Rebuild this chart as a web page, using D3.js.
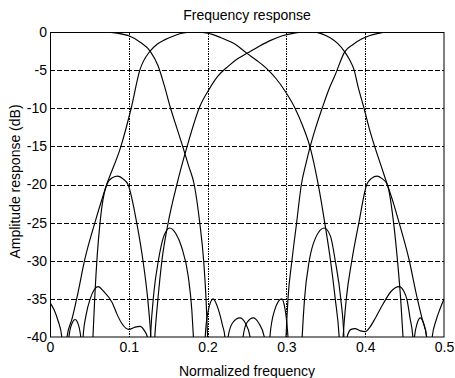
<!DOCTYPE html>
<html>
<head>
<meta charset="utf-8">
<script src="https://cdn.jsdelivr.net/npm/d3@7"></script>
<style>
  body { margin: 0; background: #fff; }
  text { font-family: "Liberation Sans", Arial, Helvetica, sans-serif; fill: #000; }
</style>
</head>
<body>
<div id="chart"></div>
<script>
const width = 455,
    height = 378,
    margin = {top: 32, right: 11, bottom: 41, left: 50}

const innerW = width - margin.left - margin.right
const innerH = height - margin.top - margin.bottom

// tick values and their printed labels
const freqTicks = [0, 0.1, 0.2, 0.3, 0.4, 0.5]
const freqLabels = ['0', '0.1', '0.2', '0.3', '0.4', '0.5']
const dbTicks = [0, -5, -10, -15, -20, -25, -30, -35, -40]
const dbLabels = ['0', '-5', '-10', '-15', '-20', '-25', '-30', '-35', '-40']

// amplitude responses [normalized frequency, dB]
// (points below -40 dB only shape the nulls, they are clipped)
const lowpass = [
  [0, 0], [0.04, 0], [0.07, -0.02], [0.085, -0.15], [0.1, -0.5], [0.114, -1.3],
  [0.127, -2.5], [0.137, -4.4], [0.145, -7], [0.153, -10], [0.161, -12.6],
  [0.169, -15.2], [0.176, -17.6], [0.183, -20], [0.19, -25], [0.195, -30],
  [0.198, -35], [0.2, -40], [0.203, -48], [0.214, -52], [0.224, -46],
  [0.226, -40], [0.232, -38.1], [0.241, -37.5], [0.248, -38.2], [0.254, -40],
  [0.257, -47], [0.267, -52], [0.277, -47], [0.279, -40], [0.285, -36.5],
  [0.294, -35], [0.298, -36.2], [0.302, -40], [0.305, -47], [0.312, -52],
  [0.317, -47], [0.32, -40], [0.323, -35], [0.329, -30], [0.337, -27],
  [0.348, -25.7], [0.356, -26.8], [0.362, -30], [0.369, -35], [0.373, -40],
  [0.375, -46], [0.377, -40], [0.382, -39], [0.387, -38.9], [0.394, -39.2],
  [0.4, -39.3], [0.406, -38.7], [0.413, -37.5], [0.423, -35.6], [0.433, -34],
  [0.443, -33.4], [0.449, -34], [0.453, -35.1], [0.457, -37.6], [0.4605, -40],
  [0.4615, -45], [0.4625, -40], [0.466, -38.2], [0.47, -37.5], [0.474, -38.2],
  [0.478, -40], [0.4815, -47], [0.485, -40], [0.49, -37.8], [0.495, -36.3],
  [0.5, -35]
]

const band2 = [
  [0, -56], [0.012, -50], [0.0195, -44], [0.0216, -40], [0.028, -37.6],
  [0.0355, -34.2], [0.044, -29.9], [0.057, -25], [0.072, -20], [0.09, -15],
  [0.103, -10], [0.114, -5], [0.127, -2.5], [0.136, -1.6], [0.146, -1],
  [0.156, -0.55], [0.166, -0.2], [0.176, -0.02], [0.186, 0], [0.196, -0.1],
  [0.207, -0.35], [0.217, -0.75], [0.235, -1.6], [0.25, -2.8], [0.262, -3.7],
  [0.274, -4.7], [0.286, -6], [0.298, -7.7], [0.31, -9.8], [0.321, -12.4],
  [0.33, -15.1], [0.34, -19.8], [0.348, -24.6], [0.356, -30], [0.362, -35],
  [0.367, -40], [0.3695, -45], [0.372, -40], [0.376, -35], [0.383, -30],
  [0.392, -25], [0.402, -20], [0.408, -19.2], [0.415, -18.9], [0.421, -19.2],
  [0.428, -20], [0.436, -25], [0.441, -30], [0.445, -35], [0.448, -40],
  [0.452, -48], [0.47, -55], [0.5, -58]
]

const band3 = [
  [0, -58], [0.03, -55], [0.048, -48], [0.0545, -40], [0.057, -34.4],
  [0.06, -29.2], [0.0635, -25], [0.072, -20], [0.079, -19.1], [0.086, -18.9],
  [0.093, -19.3], [0.099, -20], [0.11, -25], [0.118, -30], [0.124, -35],
  [0.128, -40], [0.1305, -45], [0.133, -40], [0.137, -35], [0.142, -30],
  [0.15, -25], [0.161, -20], [0.174, -15], [0.19, -9.8], [0.202, -7.5],
  [0.213, -5.8], [0.226, -4.5], [0.238, -3.5], [0.25, -2.8], [0.265, -1.9],
  [0.28, -1.1], [0.295, -0.5], [0.31, -0.15], [0.322, 0], [0.334, 0],
  [0.345, -0.25], [0.356, -0.8], [0.365, -1.5], [0.374, -2.6], [0.38, -3.6],
  [0.386, -5], [0.391, -7.2], [0.3985, -10], [0.405, -12.6], [0.412, -15],
  [0.42, -17.5], [0.428, -20], [0.436, -22.5], [0.443, -25], [0.456, -30],
  [0.4645, -34.2], [0.4722, -37.6], [0.478, -40], [0.482, -48], [0.5, -56]
]

const highpass = [
  [0, -35.5], [0.005, -36.4], [0.01, -37.8], [0.015, -40], [0.0195, -47],
  [0.024, -40], [0.028, -38.2], [0.032, -37.7], [0.035, -38.1], [0.039, -40],
  [0.0405, -45], [0.042, -40], [0.046, -37], [0.051, -35], [0.056, -33.8],
  [0.061, -33.4], [0.068, -34], [0.079, -35.5], [0.085, -37], [0.091, -38.2],
  [0.1, -39], [0.108, -38.7], [0.114, -38.6], [0.12, -39.2], [0.1235, -40],
  [0.1255, -45], [0.1275, -40], [0.132, -34], [0.1375, -30], [0.144, -26.9],
  [0.152, -25.7], [0.16, -26.5], [0.167, -28.2], [0.1755, -32.1], [0.18, -36.5],
  [0.182, -40], [0.185, -47], [0.191, -52], [0.195, -47], [0.197, -40],
  [0.2, -37], [0.207, -35], [0.214, -36.5], [0.219, -38.5], [0.222, -40],
  [0.225, -47], [0.235, -52], [0.243, -47], [0.245, -40], [0.25, -38.1],
  [0.258, -37.5], [0.265, -38.2], [0.272, -40], [0.276, -47], [0.289, -52],
  [0.297, -47], [0.2995, -40], [0.302, -35], [0.307, -30], [0.313, -25],
  [0.319, -20], [0.3245, -17.4], [0.33, -15.1], [0.337, -12.6], [0.346, -9.8],
  [0.354, -7.5], [0.362, -5.6], [0.374, -2.6], [0.385, -1.6], [0.396, -0.9],
  [0.406, -0.45], [0.416, -0.2], [0.43, 0], [0.5, 0]
]

const series = [lowpass, band2, band3, highpass]

const svg = d3.select('#chart')
  .append('svg')
    .attr('width', width)
    .attr('height', height)
    .attr('viewBox', `0 0 ${width} ${height}`)

const g = svg.append('g')
    .attr('transform', `translate(${margin.left}, ${margin.top})`)

const x = d3.scaleLinear().domain([0, 0.5]).range([0, innerW])
const y = d3.scaleLinear().domain([-40, 0]).range([innerH, 0])

// grid: dashed horizontals, dotted verticals
g.append('g')
  .call(d3.axisLeft(y).tickValues(dbTicks.slice(1, -1)).tickSize(-innerW).tickFormat(''))
  .call(a => a.select('.domain').remove())
  .selectAll('line')
    .attr('stroke', '#000')
    .attr('stroke-width', 1)
    .attr('stroke-dasharray', '4.5,2.5')
    .attr('shape-rendering', 'crispEdges')

g.append('g')
  .attr('transform', `translate(0, ${innerH})`)
  .call(d3.axisBottom(x).tickValues(freqTicks.slice(1, -1)).tickSize(-innerH).tickFormat(''))
  .call(a => a.select('.domain').remove())
  .selectAll('line')
    .attr('stroke', '#000')
    .attr('stroke-width', 1)
    .attr('stroke-dasharray', '1.2,1.3')
    .attr('shape-rendering', 'crispEdges')

// curves
g.append('clipPath')
    .attr('id', 'plot-clip')
  .append('rect')
    .attr('width', innerW)
    .attr('height', innerH)

const line = d3.line()
  .x(d => x(d[0]))
  .y(d => y(d[1]))
  .curve(d3.curveMonotoneX)

g.append('g')
    .attr('clip-path', 'url(#plot-clip)')
  .selectAll('path')
  .data(series)
  .join('path')
    .attr('d', line)
    .attr('fill', 'none')
    .attr('stroke', '#000')
    .attr('stroke-width', 1.15)

// box
g.append('rect')
    .attr('x', 0.5)
    .attr('y', 0.5)
    .attr('width', innerW - 0.5)
    .attr('height', innerH - 0.5)
    .attr('fill', 'none')
    .attr('stroke', '#000')
    .attr('stroke-width', 1)

// tick labels
const yAxis = g.append('g')
  .call(d3.axisLeft(y).tickValues(dbTicks).tickSize(0).tickPadding(3)
    .tickFormat((d, i) => dbLabels[i]))
yAxis.select('.domain').remove()
yAxis.selectAll('text')
  .style('font-size', '14px')
  .style('font-family', '"Liberation Sans", Arial, sans-serif')

const xAxis = g.append('g')
  .attr('transform', `translate(0, ${innerH})`)
  .call(d3.axisBottom(x).tickValues(freqTicks).tickSize(0).tickPadding(5)
    .tickFormat((d, i) => freqLabels[i]))
xAxis.select('.domain').remove()
xAxis.selectAll('text')
  .style('font-size', '14px')
  .style('font-family', '"Liberation Sans", Arial, sans-serif')

// titles
svg.append('text')
  .attr('x', margin.left + innerW / 2)
  .attr('y', 19.5)
  .attr('text-anchor', 'middle')
  .style('font-size', '14px')
  .text('Frequency response')

svg.append('text')
  .attr('x', margin.left + innerW / 2)
  .attr('y', 375.5)
  .attr('text-anchor', 'middle')
  .style('font-size', '14px')
  .text('Normalized frequency')

svg.append('text')
  .attr('transform', `translate(19.5, ${margin.top + innerH / 2 - 3}) rotate(-90)`)
  .attr('text-anchor', 'middle')
  .style('font-size', '14px')
  .text('Amplitude response (dB)')
</script>
</body>
</html>
